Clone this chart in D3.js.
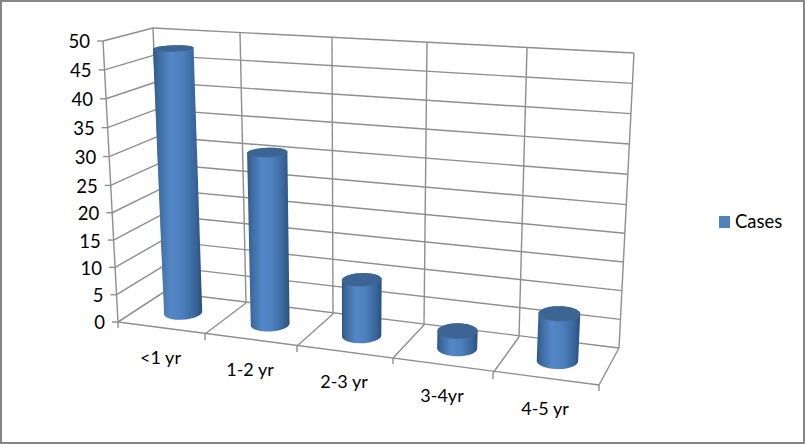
<!DOCTYPE html>
<html><head><meta charset="utf-8">
<script src="https://cdn.jsdelivr.net/npm/d3@7/dist/d3.min.js"></script>
<style>html,body{margin:0;padding:0;background:#fff}svg{display:block}text{font-family:Lato,"Open Sans",sans-serif;fill:#000}</style>
</head><body><svg id="c" width="805" height="444"></svg>
<script>
const categories = ["<1 yr","1-2 yr","2-3 yr","3-4yr","4-5 yr"];
const cases = [48,31,10,3,8];
const seriesName = "Cases";
const yTicks = [0,5,10,15,20,25,30,35,40,45,50];

const uDom = [0,1,2,3,4,5];
const sc = r => d3.scaleLinear().domain(uDom).range(r);
// projection of the chart box: floor and top edges, front and back
const fbx = sc([118,205,297,393,493,599]), fby = sc([322,334,346,358,373,385]);
const bbx = sc([164,246,333,424,519,619]), bby = sc([292,303,314,325,337,348]);
const btx = sc([153,240,332,427,527,634]), bty = sc([28,33,38,43,48,53]);
const ftx = sc([103,196,294,396,503,615]), fty = d3.scaleLinear().domain([0,5]).range([41,69]);
const vF = d3.scaleLinear().domain([0,25,50]).range([0,0.486,1]);
const L = (a,b,t)=>a+(b-a)*t;
function P(u,d,v){
  const t=vF(v);
  return [L(L(fbx(u),bbx(u),d),L(ftx(u),btx(u),d),t),
          L(L(fby(u),bby(u),d),L(fty(u),bty(u),d),t)];
}
const svg=d3.select("#c");
const line=d3.line();
const grid="#8e8e8e";
const defs=svg.append("defs");
const gr=defs.append("linearGradient").attr("id","body").attr("x1",0).attr("x2",1).attr("y1",0).attr("y2",0);
[[0,"#2f5680"],[.1,"#3c6a9f"],[.35,"#5487c6"],[.6,"#4c7fbc"],[.85,"#3a679c"],[1,"#2b4f7a"]]
  .forEach(([o,c])=>gr.append("stop").attr("offset",o).attr("stop-color",c));

svg.append("rect").attr("x",1).attr("y",1).attr("width",803).attr("height",442)
  .attr("fill","#fff").attr("stroke","#868686").attr("stroke-width",2);

const g=svg.append("g").attr("fill","none").attr("stroke",grid).attr("stroke-width",1.4);
const seg=(a,b)=>g.append("path").attr("d",line([a,b]));
yTicks.forEach(v=>{
  seg(P(0,1,v),P(5,1,v));
  seg(P(0,0,v),P(0,1,v));
  const p=P(0,0,v);
  seg([p[0]-6,p[1]],p);
});
uDom.forEach(u=>{
  seg(P(u,1,0),P(u,1,50));
  seg(P(u,0,0),P(u,1,0));
  const p=P(u,0,0);
  seg(p,[p[0],p[1]+6]);
});
seg(P(0,0,0),P(5,0,0));
seg(P(0,0,0),P(0,0,50));

svg.append("g").selectAll("text").data(yTicks).join("text")
  .attr("x",v=>P(0,0,v)[0]-13).attr("y",v=>P(0,0,v)[1]+1).attr("dy","0.35em")
  .attr("text-anchor","end").attr("font-size",18.5).text(d=>d);
svg.append("g").selectAll("text").data(categories).join("text")
  .attr("x",(d,i)=>P(i+.5,0,0)[0]-1).attr("y",(d,i)=>P(i+.5,0,0)[1]+30).attr("dy","0.35em")
  .attr("text-anchor","middle").attr("font-size",18).text(d=>d);

const ur=0.195, dr=0.22, ang=d3.range(0,64).map(i=>i/64*2*Math.PI);
const ring=(i,v)=>ang.map(a=>P(i+.5+ur*Math.cos(a),.5+dr*Math.sin(a),v));
const cyl=svg.append("g").selectAll("g").data(cases).join("g");
cyl.append("path").attr("fill","url(#body)")
  .attr("d",(d,i)=>line(d3.polygonHull(ring(i,0).concat(ring(i,d))))+"Z");
cyl.append("path").attr("fill","#3c6594")
  .attr("d",(d,i)=>line(ring(i,d))+"Z");

svg.append("rect").attr("x",719).attr("y",216).attr("width",11).attr("height",12).attr("fill","#4f81bd");
svg.append("text").attr("x",735).attr("y",222).attr("dy","0.35em").attr("font-size",18.5).text(seriesName);
</script></body></html>
